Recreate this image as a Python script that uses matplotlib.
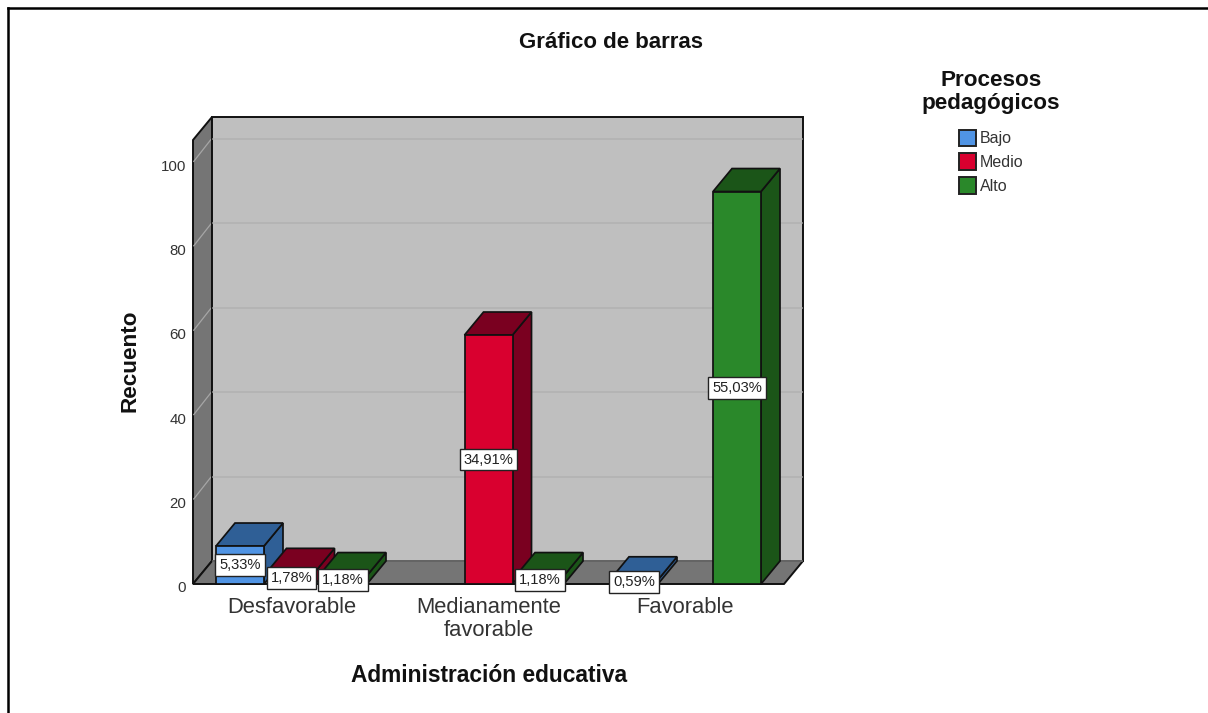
import matplotlib
matplotlib.use("Agg")
import matplotlib.pyplot as plt
from matplotlib.lines import Line2D
from matplotlib.patches import Patch, Polygon
from matplotlib.transforms import ScaledTranslation

plt.rcParams['font.family'] = ['Liberation Sans', 'DejaVu Sans']

categories = ['Desfavorable', 'Medianamente\nfavorable', 'Favorable']
series_names = ['Bajo', 'Medio', 'Alto']
bajo = [9, 0, 1]
medio = [3, 59, 0]
alto = [2, 2, 93]
bajo_pct = ['5,33%', '', '0,59%']
medio_pct = ['1,78%', '34,91%', '']
alto_pct = ['1,18%', '1,18%', '55,03%']
y_ticks = [0, 20, 40, 60, 80, 100]

front_colors = ['#5094E4', '#D9002F', '#2A882A']
dark_colors = ['#2F5F96', '#7A0020', '#1B5518']
W, H = 1208, 713
fig = plt.figure(figsize=(W / 100, H / 100), dpi=100, facecolor='white')

L, R, T, B = 193, 784, 140, 584
ax = fig.add_axes([L / W, 1 - B / H, (R - L) / W, (B - T) / H], facecolor='none')
x_min, x_max = -0.5, 2.5
px_per_x = (R - L) / (x_max - x_min)
px_per_y = 4.22
y_max = (B - T) / px_per_y
ax.set_xlim(x_min, x_max)
ax.set_ylim(0, y_max)
for s in ax.spines.values():
    s.set_visible(False)

DX = 19 / px_per_x
DY = 23 / px_per_y
bar_w = 48 / px_per_x
bar_off = 51.5 / px_per_x


def poly(points, fc, z, ec='#111111', lw=1.25):
    ax.add_patch(Polygon(points, closed=True, facecolor=fc, edgecolor=ec, linewidth=lw,
                         joinstyle='miter', clip_on=False, zorder=z))


# walls
poly([(x_min, 0), (x_min, y_max), (x_min + DX, y_max + DY), (x_min + DX, DY)], '#757575', 1, lw=1.4)
poly([(x_min + DX, DY), (x_min + DX, y_max + DY), (x_max + DX, y_max + DY), (x_max + DX, DY)],
     '#BFBFBF', 1.1, lw=1.4)
poly([(x_min, 0), (x_min + DX, DY), (x_max + DX, DY), (x_max, 0)], '#757575', 1.2, lw=1.4)
ax.plot([x_min + DX + 0.004, x_max + DX - 0.004], [DY, DY], color='#757575', lw=1.2, zorder=1.25, clip_on=False)

for t in y_ticks[1:]:
    ax.plot([x_min + 0.004, x_min + DX - 0.006], [t + 0.15, t + DY - 0.15], color='#A6A6A6', lw=0.9,
            zorder=1.05, clip_on=False)
    ax.plot([x_min + DX + 0.006, x_max + DX - 0.006], [t + DY, t + DY], color='#B1B1B1', lw=1.1,
            zorder=1.3, clip_on=False)

# bars
series = [bajo, medio, alto]
pcts = [bajo_pct, medio_pct, alto_pct]
z = 2
for c in range(len(categories)):
    for s, vals in enumerate(series):
        v = vals[c]
        if v == 0:
            continue
        x0 = c + (s - 1) * bar_off - bar_w / 2
        x1 = x0 + bar_w
        poly([(x1, 0), (x1 + DX, DY), (x1 + DX, v + DY), (x1, v)], dark_colors[s], z)
        poly([(x0, v), (x0 + DX, v + DY), (x1 + DX, v + DY), (x1, v)], dark_colors[s], z + 0.1)
        ax.bar(x0 + bar_w / 2, v, width=bar_w, color=front_colors[s], edgecolor='#111111',
               linewidth=1.25, zorder=z + 0.2, clip_on=False)
        z += 0.5

# data labels
for c in range(len(categories)):
    for s, vals in enumerate(series):
        if pcts[s][c]:
            ax.text(c + (s - 1) * bar_off, vals[c] / 2, pcts[s][c], ha='center', va='center',
                    fontsize=10.6, color='#222222', zorder=20,
                    bbox=dict(boxstyle='square,pad=0.27', facecolor='white', edgecolor='#222222', linewidth=1))

# axes text
ax.set_xticks(range(len(categories)))
ax.set_xticklabels(categories, fontsize=15.8, color='#333333', linespacing=1.1)
ax.set_yticks(y_ticks)
ax.set_yticklabels([str(t) for t in y_ticks], fontsize=10.8, color='#333333')
ax.tick_params(axis='x', length=0, pad=9.5)
ax.tick_params(axis='y', length=0, pad=5)
shift = ScaledTranslation(0, -3 / 100, fig.dpi_scale_trans)
for lab in ax.get_yticklabels():
    lab.set_transform(lab.get_transform() + shift)

fig.text(611 / W, 1 - 42 / H, 'Gráfico de barras', ha='center', va='center', fontsize=16, fontweight='bold', color='#111111')
fig.text(489 / W, 1 - 676 / H, 'Administración educativa', ha='center', va='center', fontsize=16.4, fontweight='bold', color='#111111')
fig.text(130 / W, 1 - 361 / H, 'Recuento', ha='center', va='center', rotation=90, fontsize=16.2, fontweight='bold', color='#111111')

handles = [Patch(facecolor=c, edgecolor='#222222', linewidth=1.4) for c in front_colors]
leg = fig.legend(handles, series_names, loc='upper center', bbox_to_anchor=(991 / W, 1 - 56 / H),
                 frameon=False, fontsize=11.5, title='Procesos\npedagógicos',
                 title_fontproperties={'size': 16.2, 'weight': 'bold'},
                 handlelength=1.05, handleheight=1.25, handletextpad=0.25, labelspacing=0.42,
                 alignment='center', borderpad=0.4)
leg.get_title().set_linespacing(1.12)
leg.get_title().set_multialignment('center')
leg.get_title().set_color('#111111')
leg._legend_box.sep = 11
for t in leg.get_texts():
    t.set_color('#333333')

# outer frame
fig.add_artist(Line2D([8 / W, 8 / W], [0, 1 - 8 / H], color='black', lw=1.8, solid_capstyle='projecting'))
fig.add_artist(Line2D([8 / W, 1], [1 - 8 / H, 1 - 8 / H], color='black', lw=1.8, solid_capstyle='projecting'))

fig.savefig('out.png', dpi=100, facecolor='white')
